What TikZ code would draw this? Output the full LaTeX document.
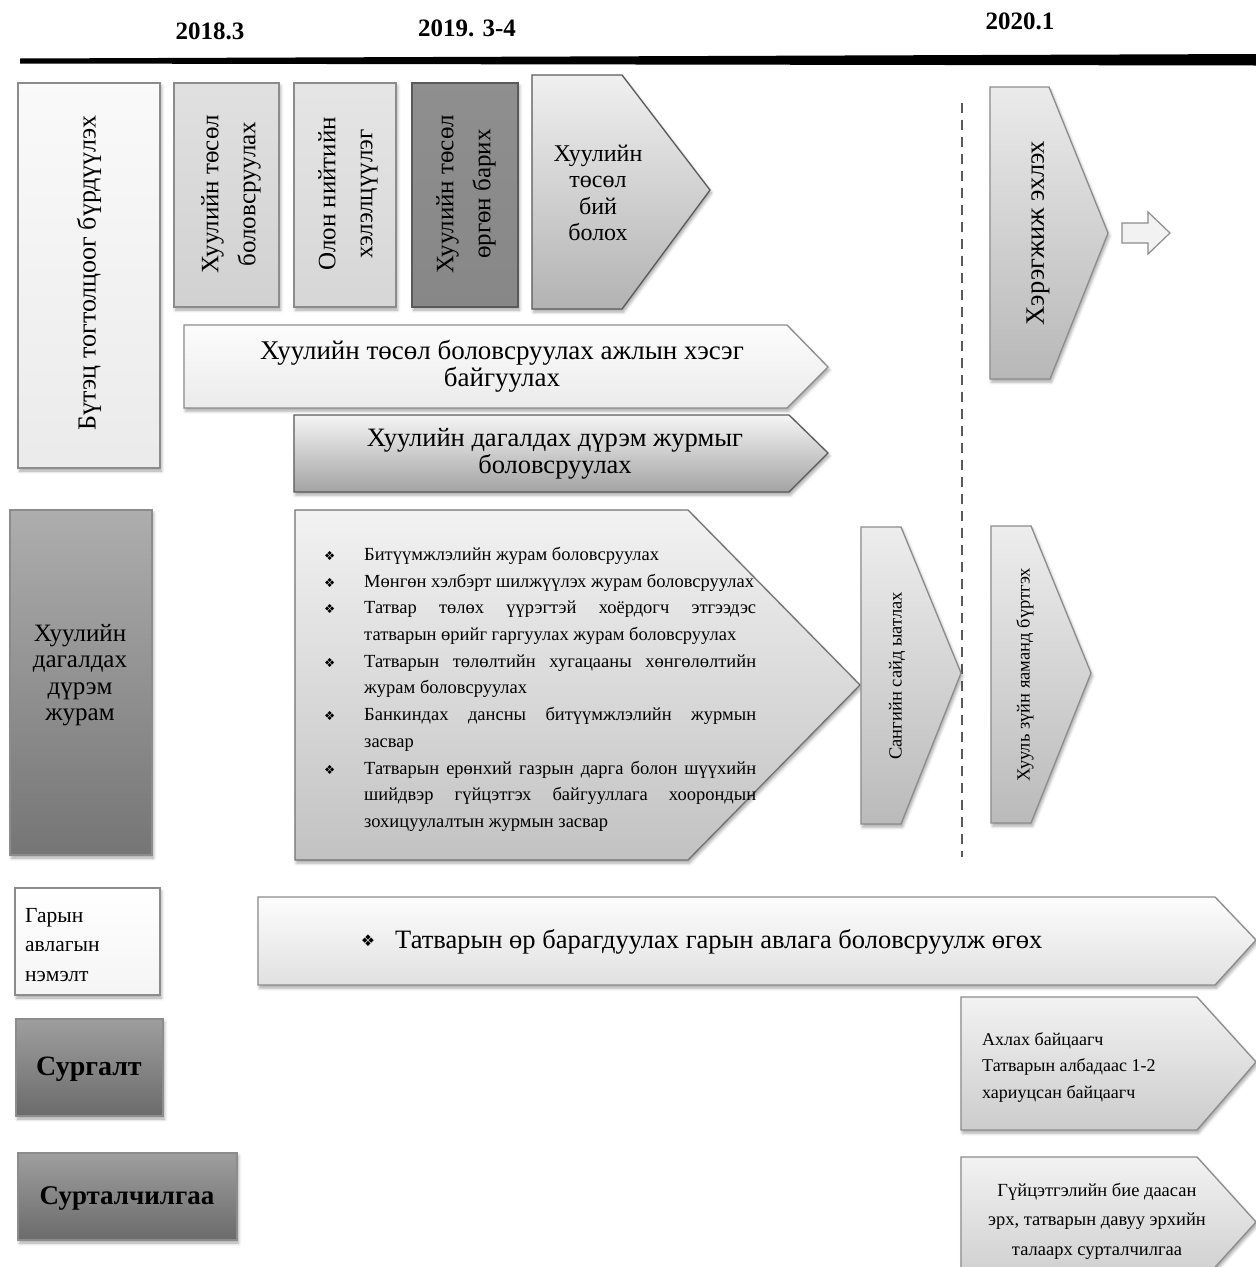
\documentclass[tikz,border=0pt]{standalone}
\usepackage{fontspec}
\setmainfont{Liberation Serif}
\newfontfamily\symfont{DejaVu Sans}
\usetikzlibrary{shadows.blur}
\definecolor{bd}{HTML}{8C8C8C}
\definecolor{bdk}{HTML}{5A5A5A}
\newcommand{\bul}{\makebox[40pt][l]{{\symfont\fontsize{12.5}{12.5}\selectfont ❖}}}
\newcommand{\jl}[1]{\makebox[392pt][s]{#1}}
\tikzset{
  shp/.style={draw=bd, line width=1.3pt, blur shadow={shadow xshift=1.5pt, shadow yshift=-3pt, shadow blur radius=3pt, shadow opacity=35}},
  shpd/.style={shp, draw=bdk},
  lbl/.style={inner sep=0pt, align=center},
}
\begin{document}
\begin{tikzpicture}[x=1pt,y=-1pt]
\useasboundingbox (0,0) rectangle (1256,1267);
% header
\fill (20,58.5) -- (1256,54) -- (1256,65.5) -- (20,63.5) -- cycle;
\node[lbl, font=\bfseries\fontsize{25}{29}\selectfont] (h1) at (210,31) {2018.3};
\node[lbl, font=\bfseries\fontsize{25}{29}\selectfont] (h2) at (467,28) {2019. 3-4};
\node[lbl, font=\bfseries\fontsize{25}{29}\selectfont] (h3) at (1020,21) {2020.1};
% left column top
\path[shp, top color=black!2, bottom color=black!8] (18,83) rectangle (160,468);
\node[lbl, rotate=90, font=\fontsize{26}{30}\selectfont] (tA) at (89,273) {Бүтэц тогтолцоог бүрдүүлэх};
% top row boxes
\path[shp, top color=black!12, bottom color=black!18] (174,83) rectangle (279,307);
\node[lbl, rotate=90, font=\fontsize{25}{37}\selectfont] (tB) at (231,194) {Хуулийн төсөл\\боловсруулах};
\path[shp, top color=black!10, bottom color=black!16] (294,83) rectangle (396,307);
\node[lbl, rotate=90, font=\fontsize{25}{37}\selectfont] (tC) at (348,194) {Олон нийтийн\\хэлэлцүүлэг};
\path[shpd, top color=black!44, bottom color=black!47] (412,83) rectangle (518,307);
\node[lbl, rotate=90, font=\fontsize{25}{37}\selectfont] (tD) at (466,194) {Хуулийн төсөл\\өргөн барих};
\path[shpd, top color=black!6, bottom color=black!30] (532,75) -- (622,75) -- (710,190) -- (622,309) -- (532,309) -- cycle;
\node[lbl, font=\fontsize{24}{26.5}\selectfont] (tE) at (598,193) {Хуулийн\\төсөл\\бий\\болох};
% working group arrow
\path[shp, top color=black!1, bottom color=black!8] (184,325) -- (787,325) -- (828,367) -- (787,408) -- (184,408) -- cycle;
\node[lbl, font=\fontsize{27}{27}\selectfont] (tWG) at (502,366) {Хуулийн төсөл боловсруулах ажлын хэсэг\\байгуулах};
% dagaldah arrow
\path[shpd, top color=black!4, bottom color=black!36] (294,415) -- (789,415) -- (828,453) -- (789,492) -- (294,492) -- cycle;
\node[lbl, font=\fontsize{26.5}{27}\selectfont] (tDG) at (555,454) {Хуулийн дагалдах дүрэм журмыг\\боловсруулах};
% implement
\path[shp, top color=black!8, bottom color=black!28] (990,87) -- (1049,87) -- (1108,233) -- (1050,379) -- (990,379) -- cycle;
\node[lbl, rotate=90, font=\fontsize{26.5}{30}\selectfont] (tH) at (1038,233) {Хэрэгжиж эхлэх};
\path[draw=bd, line width=1.2pt, fill=black!5] (1122,223) -- (1148,223) -- (1148,212) -- (1170,233) -- (1148,254) -- (1148,243) -- (1122,243) -- cycle;
% dashed divider
\coordinate (dTop) at (962,103);
\coordinate (dBot) at (962,857);
\draw[draw=black!65, line width=1.8pt, dash pattern=on 10pt off 7pt] (dTop) -- (dBot);
% left column middle
\path[shp, top color=black!32, bottom color=black!54] (10,510) rectangle (152,855);
\node[lbl, font=\fontsize{25}{26.5}\selectfont] (tL2) at (80,675) {Хуулийн\\дагалдах\\дүрэм\\журам};
% bullet arrow
\path[shp, draw=black!55, top color=black!5, bottom color=black!24] (295,510) -- (688,510) -- (860,685) -- (688,860) -- (295,860) -- cycle;
\node[anchor=north west, inner sep=0pt, align=left, font=\fontsize{18.5}{26.7}\selectfont] (list) at (324,547) {%
\bul Битүүмжлэлийн журам боловсруулах\\
\bul Мөнгөн хэлбэрт шилжүүлэх журам боловсруулах\\
\bul\jl{Татвар төлөх үүрэгтэй хоёрдогч этгээдэс}\\
\hspace*{40pt}татварын өрийг гаргуулах журам боловсруулах\\
\bul\jl{Татварын төлөлтийн хугацааны хөнгөлөлтийн}\\
\hspace*{40pt}журам боловсруулах\\
\bul\jl{Банкиндах дансны битүүмжлэлийн журмын}\\
\hspace*{40pt}засвар\\
\bul\jl{Татварын ерөнхий газрын дарга болон шүүхийн}\\
\hspace*{40pt}\jl{шийдвэр гүйцэтгэх байгууллага хоорондын}\\
\hspace*{40pt}зохицуулалтын журмын засвар};
% ministry arrows
\path[shp, top color=black!7, bottom color=black!27] (861,527) -- (901,527) -- (961,673) -- (901,824) -- (861,824) -- cycle;
\node[lbl, rotate=90, font=\fontsize{18.5}{20}\selectfont] (tS) at (897,676) {Сангийн сайд ыатлах};
\path[shp, top color=black!7, bottom color=black!27] (991,526) -- (1031,526) -- (1091,673) -- (1031,823) -- (991,823) -- cycle;
\node[lbl, rotate=90, font=\fontsize{18.5}{20}\selectfont] (tJ) at (1025,675) {Хууль зүйн яаманд бүртгэх};
% manual row
\path[shp, top color=white, bottom color=black!4] (15,888) rectangle (160,995);
\node[anchor=west, inner sep=0pt, align=left, font=\fontsize{21.5}{29.5}\selectfont] (tG) at (25,945) {Гарын\\авлагын\\нэмэлт};
\path[shp, top color=black!1, bottom color=black!12] (258,897) -- (1215,897) -- (1256,940) -- (1215,985) -- (258,985) -- cycle;
\node[lbl, font=\symfont\fontsize{16}{16}\selectfont] (bM) at (368,941) {❖};
\node[anchor=west, inner sep=0pt, font=\fontsize{26.5}{30}\selectfont] (tM) at (395,942) {Татварын өр барагдуулах гарын авлага боловсруулж өгөх};
% training
\path[shp, top color=black!38, bottom color=black!58] (16,1019) rectangle (163,1116);
\node[lbl, font=\bfseries\fontsize{28}{32}\selectfont] (tT) at (89,1069) {Сургалт};
\path[shp, top color=black!38, bottom color=black!58] (18,1153) rectangle (237,1240);
\node[lbl, font=\bfseries\fontsize{27}{31}\selectfont] (tP) at (127,1198) {Сурталчилгаа};
\path[shp, top color=black!5, bottom color=black!20] (961,997) -- (1197,997) -- (1256,1062) -- (1197,1130) -- (961,1130) -- cycle;
\node[anchor=west, inner sep=0pt, align=left, font=\fontsize{18}{26.5}\selectfont] (tAk) at (982,1067) {Ахлах байцаагч\\Татварын албадаас 1-2\\хариуцсан байцаагч};
\path[shp, top color=black!5, bottom color=black!20] (961,1157) -- (1197,1157) -- (1256,1222) -- (1197,1287) -- (961,1287) -- cycle;
\node[lbl, font=\fontsize{18.5}{29.5}\selectfont] (tGu) at (1097,1221) {Гүйцэтгэлийн бие даасан\\эрх, татварын давуу эрхийн\\талаарх сурталчилгаа};
\end{tikzpicture}
\end{document}
